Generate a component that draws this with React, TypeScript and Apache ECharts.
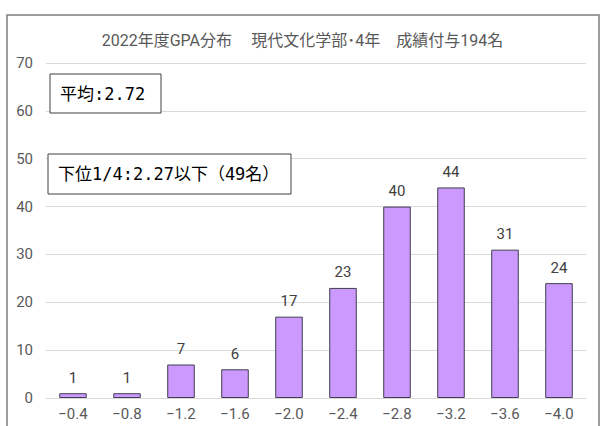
import React, { useEffect, useRef } from "react";
import * as echarts from "echarts";

const categories = ["−0.4", "−0.8", "−1.2", "−1.6", "−2.0", "−2.4", "−2.8", "−3.2", "−3.6", "−4.0"];
const counts = [1, 1, 7, 6, 17, 23, 40, 44, 31, 24];
const titleText = "2022年度GPA分布　\u2009現代文化学部･4年　成績付与194名";
const meanText = "平均:2.72";
const lowerText = "下位1/4:2.27以下（49名）";

const FONT = "Roboto, 'Noto Sans CJK JP', sans-serif";
const BOX_FONT = "'DejaVu Sans Mono', 'Noto Sans CJK JP', monospace";

export default function App() {
  const ref = useRef<HTMLDivElement>(null);
  useEffect(() => {
    document.body.style.margin = "0";
    const chart = echarts.init(ref.current!, null, { renderer: "svg" });
    chart.setOption({
      animation: false,
      backgroundColor: "#ffffff",
      textStyle: { fontFamily: FONT },
      title: {
        text: titleText,
        left: "center",
        top: 27,
        textStyle: { fontSize: 16, fontWeight: "normal", color: "#595959", fontFamily: FONT },
      },
      grid: { left: 46, right: 19, top: 63, bottom: 28, containLabel: false },
      xAxis: {
        type: "category",
        data: categories,
        axisLine: { lineStyle: { color: "#d9d9d9", width: 1 } },
        axisTick: { show: false },
        axisLabel: { color: "#595959", fontSize: 15, margin: 8, fontFamily: FONT },
      },
      yAxis: {
        type: "value",
        min: 0,
        max: 70,
        interval: 10,
        axisLine: { show: false },
        axisTick: { show: false },
        splitLine: { lineStyle: { color: "#d9d9d9", width: 1 } },
        axisLabel: { color: "#595959", fontSize: 15, margin: 13, fontFamily: FONT },
      },
      series: [
        {
          type: "bar",
          data: counts,
          barWidth: "51%",
          itemStyle: { color: "#cc99ff", borderColor: "#3f3f4f", borderWidth: 1 },
          label: {
            show: true,
            position: "top",
            distance: 8,
            color: "#404040",
            fontSize: 15,
            fontFamily: FONT,
          },
        },
      ],
      graphic: [
        {
          type: "rect",
          silent: true,
          shape: { x: 7, y: 15, width: 592, height: 440 },
          style: { fill: "none", stroke: "#7f7f7f", lineWidth: 1.5 },
          z: 100,
        },
        {
          type: "rect",
          shape: { x: 50, y: 74, width: 111, height: 39 },
          style: { fill: "#ffffff", stroke: "#404040", lineWidth: 1 },
          z: 100,
        },
        {
          type: "text",
          x: 60,
          y: 94,
          style: { text: meanText, fontSize: 17, fill: "#000000", fontFamily: BOX_FONT, verticalAlign: "middle" },
          z: 101,
        },
        {
          type: "rect",
          shape: { x: 48, y: 154, width: 243, height: 40 },
          style: { fill: "#ffffff", stroke: "#404040", lineWidth: 1 },
          z: 100,
        },
        {
          type: "text",
          x: 58,
          y: 174,
          style: { text: lowerText, fontSize: 17, fill: "#000000", fontFamily: BOX_FONT, verticalAlign: "middle" },
          z: 101,
        },
      ],
    });
    return () => chart.dispose();
  }, []);
  return <div ref={ref} style={{ width: 605, height: 426 }} />;
}
